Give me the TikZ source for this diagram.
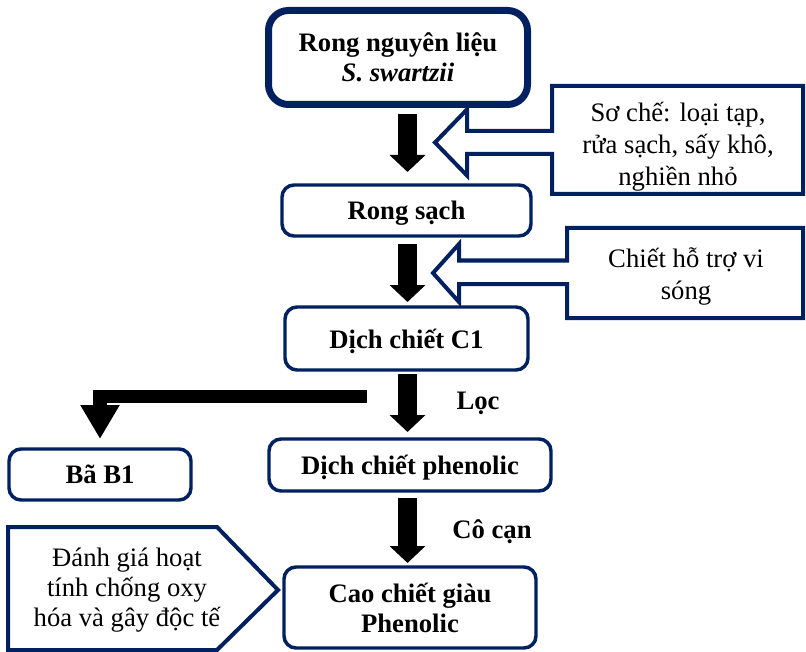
\documentclass[tikz,border=0pt]{standalone}
\usepackage{fontspec}
\setmainfont{Liberation Serif}
\usetikzlibrary{arrows.meta,positioning,calc}
\definecolor{navy}{RGB}{0,32,96}
\tikzset{
    box/.style ={rectangle, rounded corners=9pt, draw=navy, line width=2.6pt, outer sep=0pt,
                 align=center, text depth=0pt, font=\bfseries\fontsize{20}{22.5}\selectfont},
    mainbox/.style ={box, line width=5.25pt, rounded corners=15pt},
    callout/.style ={draw=navy, line width=3pt, line join=miter},
    note/.style ={align=center, font=\fontsize{20}{24}\selectfont},
    flow/.style ={line width=14.25pt, -{Triangle[length=12.75pt,width=26.25pt]}},
    branch/.style ={line width=10.1pt, -{Triangle[length=25.5pt,width=27.75pt]}},
    lbl/.style ={font=\bfseries\fontsize{20}{22.5}\selectfont}
}

\begin{document}
\begin{tikzpicture}[x=0.75pt,y=-0.75pt]
    \useasboundingbox (0,0) rectangle (806,652);

    % process boxes
    \node[mainbox, minimum width=194.25pt, minimum height=70.5pt] (raw) at (398,57.5)
        {Rong nguyên liệu\\ \textit{S. swartzii}};
    \node[box, minimum width=186.75pt, minimum height=38.25pt] (clean) at (406.5,210.5) {Rong sạch};
    \node[box, minimum width=182.25pt, minimum height=47.25pt] (c1) at (406.5,338.5) {Dịch chiết C1};
    \node[box, minimum width=211.5pt, minimum height=39pt] (phen) at (410,465) {Dịch chiết phenolic};
    \node[box, minimum width=189pt, minimum height=60.75pt] (cao) at (410,607.5) {Cao chiết giàu\\ Phenolic};
    \node[box, minimum width=136.5pt, minimum height=38.25pt] (bb) at (100,474.5) {Bã B1};

    % arrow column
    \coordinate (col) at (407.5,0);
    \coordinate (split) at (367,396.5);

    % main flow
    \draw[flow, shorten <=7.1pt, shorten >=9.75pt] (raw.south -| col) -- (clean.north -| col);
    \draw[flow, shorten <=6pt, shorten >=3.75pt] (clean.south -| col) -- (c1.north -| col);
    \draw[flow, shorten <=3pt, shorten >=5.25pt] (c1.south -| col) -- (phen.north -| col);
    \draw[flow, shorten <=5.25pt, shorten >=3pt] (phen.south -| col) -- (cao.north -| col);

    % residue
    \draw[branch, shorten >=7.5pt] (split) -| (bb.north);

    \node[lbl] (loc) at (478,403) {Lọc};
    \node[lbl] (cocan) at (492,532) {Cô cạn};

    % side steps
    \draw[callout] (803,86) -- (552,86) -- (552,131) -- (467,131) -- (467,109.5)
        -- (435,142.5) -- (467,175.5) -- (467,154) -- (552,154) -- (552,194)
        -- (803,194) -- cycle;
    \node[note] (prep) at (678,147) {Sơ chế: loại tạp,\\ rửa sạch, sấy khô,\\ nghiền nhỏ};

    \draw[callout] (803,228) -- (567,228) -- (567,260.5) -- (459,260.5) -- (459,244)
        -- (433,273) -- (459,302) -- (459,284) -- (567,284) -- (567,318)
        -- (803,318) -- cycle;
    \node[note] (mw) at (686,276) {Chiết hỗ trợ vi\\ sóng};

    \draw[callout] (8,527) -- (217,527) -- (278,590) -- (217,650) -- (8,650) -- cycle;
    \node[note, font=\fontsize{20}{22.5}\selectfont] (test) at (127,590)
        {Đánh giá hoạt\\ tính chống oxy\\ hóa và gây độc tế};

\end{tikzpicture}
\end{document}
